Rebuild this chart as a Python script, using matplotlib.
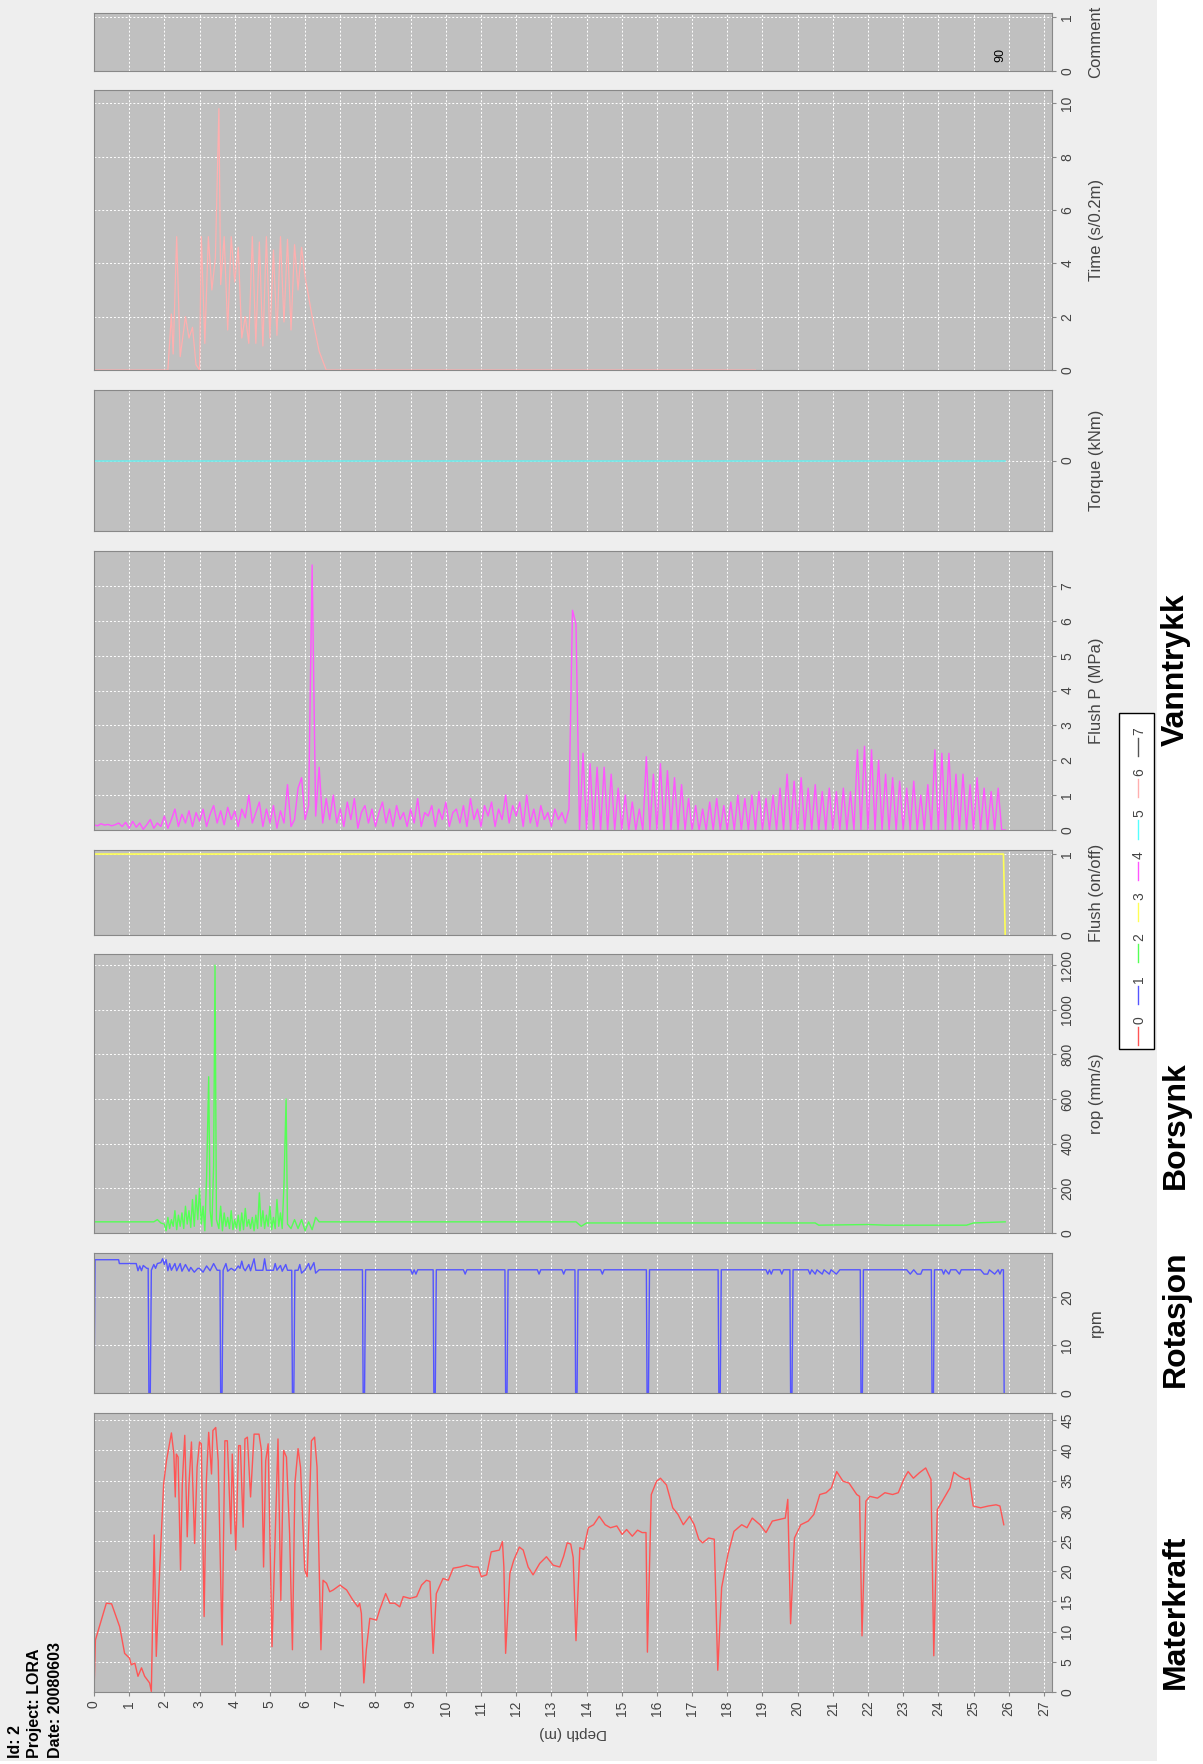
import numpy as np
import matplotlib.pyplot as plt
from matplotlib.lines import Line2D
from matplotlib.patches import Rectangle

plt.rcParams['font.family'] = ['Liberation Sans', 'DejaVu Sans']

# ---- data (depth in m, value) ----
force_pts = [
    (0.0, 0.0), (0.04, 8.6), (0.35, 14.7), (0.5, 14.6), (0.73, 10.8), (0.87, 6.4),
    (1.01, 5.6), (1.06, 4.5), (1.16, 4.8), (1.25, 2.6), (1.35, 4.0), (1.44, 2.6),
    (1.58, 1.5), (1.63, 0.1), (1.71, 26.0), (1.77, 5.9), (1.87, 20.7), (1.98, 34.5),
    (2.06, 38.3), (2.2, 42.9), (2.27, 39.4), (2.31, 32.3), (2.34, 39.4), (2.39, 38.9),
    (2.46, 20.2), (2.51, 34.5), (2.58, 42.5), (2.65, 25.7), (2.7, 34.5), (2.77, 41.4),
    (2.86, 24.6), (2.93, 37.2), (3.0, 41.4), (3.05, 41.1), (3.13, 12.5), (3.19, 34.5),
    (3.26, 43.0), (3.34, 36.1), (3.38, 43.3), (3.46, 43.8), (3.53, 38.3), (3.64, 7.8),
    (3.72, 41.6), (3.79, 41.6), (3.89, 26.2), (3.93, 39.4), (4.03, 23.5), (4.11, 40.8),
    (4.16, 40.8), (4.24, 27.3), (4.29, 41.9), (4.36, 42.2), (4.45, 32.3), (4.55, 42.7),
    (4.69, 42.7), (4.76, 40.0), (4.82, 20.7), (4.88, 38.3), (4.95, 41.1), (5.06, 7.5),
    (5.17, 30.1), (5.23, 41.9), (5.31, 15.2), (5.39, 40.0), (5.47, 38.9), (5.56, 26.2),
    (5.64, 7.0), (5.71, 34.5), (5.8, 40.3), (5.87, 37.2), (5.99, 20.2), (6.06, 19.1),
    (6.18, 41.6), (6.27, 42.2), (6.34, 37.2), (6.45, 7.0), (6.51, 18.5), (6.61, 18.0),
    (6.7, 16.6), (6.8, 16.9), (6.99, 17.7), (7.18, 16.9), (7.36, 15.2), (7.5, 14.1),
    (7.55, 14.7), (7.6, 13.0), (7.67, 1.5), (7.74, 7.0), (7.84, 12.2), (8.03, 11.9),
    (8.12, 13.6), (8.29, 16.3), (8.41, 14.7), (8.55, 14.7), (8.69, 14.1), (8.79, 15.8),
    (8.98, 15.5), (9.17, 15.8), (9.31, 17.7), (9.45, 18.5), (9.55, 18.3), (9.64, 6.4),
    (9.73, 16.3), (9.92, 18.8), (10.07, 18.5), (10.21, 20.5), (10.4, 20.7), (10.59, 21.0),
    (10.78, 20.7), (10.92, 20.7), (11.01, 19.1), (11.16, 19.4), (11.29, 23.2), (11.52, 23.5),
    (11.61, 24.9), (11.65, 20.7), (11.7, 6.4), (11.82, 19.6), (11.93, 21.8), (12.09, 24.0),
    (12.2, 23.5), (12.34, 20.7), (12.48, 19.4), (12.67, 21.3), (12.86, 22.4), (13.05, 21.0),
    (13.24, 20.7), (13.35, 22.5), (13.45, 24.7), (13.55, 24.5), (13.62, 22.3), (13.7, 8.5),
    (13.81, 23.9), (13.92, 23.6), (14.05, 27.2), (14.2, 27.7), (14.36, 29.1), (14.53, 27.7),
    (14.68, 27.2), (14.86, 27.5), (15.01, 26.1), (15.14, 26.9), (15.3, 25.8), (15.45, 26.8),
    (15.58, 26.4), (15.69, 26.4), (15.73, 6.6), (15.84, 32.7), (15.99, 34.9), (16.1, 35.4),
    (16.27, 34.3), (16.45, 30.5), (16.6, 29.4), (16.75, 27.7), (16.93, 29.1), (17.06, 27.7),
    (17.19, 25.3), (17.3, 24.7), (17.47, 25.5), (17.63, 25.3), (17.73, 3.6), (17.84, 17.3),
    (18.02, 22.8), (18.19, 26.6), (18.41, 27.7), (18.56, 27.2), (18.71, 28.8), (18.93, 27.7),
    (19.1, 26.4), (19.28, 28.3), (19.5, 28.6), (19.65, 28.8), (19.72, 31.9), (19.8, 11.3),
    (19.91, 25.5), (20.09, 27.7), (20.3, 28.3), (20.46, 29.4), (20.63, 32.7), (20.81, 33.0),
    (20.96, 33.8), (21.11, 36.5), (21.29, 34.9), (21.46, 34.6), (21.68, 32.7), (21.76, 32.4),
    (21.83, 9.3), (21.94, 31.6), (22.05, 32.4), (22.27, 32.1), (22.48, 33.0), (22.7, 32.7),
    (22.86, 33.0), (23.03, 35.4), (23.14, 36.5), (23.29, 35.4), (23.46, 36.3), (23.64, 37.1),
    (23.79, 35.2), (23.87, 6.0), (23.97, 30.2), (24.16, 32.1), (24.33, 33.8), (24.44, 36.4),
    (24.6, 35.7), (24.77, 35.2), (24.88, 35.4), (24.99, 30.8), (25.2, 30.5), (25.42, 30.8),
    (25.64, 31.0), (25.75, 30.8), (25.86, 27.7),
]

rpm_pts = [
    (0.0, 0), (0.03, 27.8), (0.7, 27.8), (0.72, 27.0), (1.2, 27.0), (1.25, 25.5), (1.3, 26.5),
    (1.35, 25.5), (1.4, 26.6), (1.5, 26.0), (1.54, 26.0), (1.56, 0), (1.6, 0), (1.63, 25.6),
    (1.7, 26.8), (1.75, 26.0), (1.8, 27.0), (1.9, 27.2), (1.95, 28.0), (2.0, 26.8), (2.05, 27.8),
    (2.1, 25.5), (2.15, 27.0), (2.2, 25.6), (2.3, 27.0), (2.35, 25.5), (2.45, 27.0), (2.5, 25.4),
    (2.6, 26.8), (2.7, 25.4), (2.75, 26.2), (2.85, 25.2), (2.95, 26.0), (3.0, 26.0), (3.1, 25.2),
    (3.2, 26.5), (3.3, 25.5), (3.4, 27.0), (3.5, 25.6), (3.58, 25.6), (3.6, 0), (3.64, 0),
    (3.67, 25.6), (3.75, 27.0), (3.8, 25.4), (3.9, 26.0), (4.0, 25.5), (4.1, 26.5), (4.15, 26.0),
    (4.2, 27.5), (4.25, 26.0), (4.3, 25.5), (4.4, 26.8), (4.45, 25.5), (4.55, 28.0), (4.6, 25.6),
    (4.8, 25.6), (4.85, 28.0), (4.9, 25.6), (5.1, 25.6), (5.15, 27.0), (5.2, 25.6), (5.3, 26.6),
    (5.35, 25.4), (5.45, 26.8), (5.5, 25.6), (5.62, 25.6), (5.64, 0), (5.68, 0), (5.71, 25.6),
    (5.8, 25.6), (5.85, 26.8), (5.9, 25.0), (6.0, 25.7), (6.1, 27.0), (6.15, 25.7), (6.25, 27.2),
    (6.3, 25.0), (6.4, 25.7), (7.63, 25.7), (7.65, 0), (7.69, 0), (7.72, 25.7), (9.0, 25.7),
    (9.05, 24.8), (9.1, 25.7), (9.15, 24.8), (9.2, 25.7), (9.64, 25.7), (9.66, 0), (9.7, 0),
    (9.73, 25.7), (10.5, 25.7), (10.55, 24.8), (10.6, 25.7), (11.68, 25.7), (11.7, 0),
    (11.74, 0), (11.77, 25.7), (12.6, 25.7), (12.65, 24.8), (12.7, 25.7), (13.3, 25.7),
    (13.35, 24.8), (13.4, 25.7), (13.67, 25.7), (13.69, 0), (13.73, 0), (13.76, 25.7),
    (14.4, 25.7), (14.45, 24.8), (14.5, 25.7), (15.7, 25.7), (15.72, 0), (15.76, 0),
    (15.79, 25.7), (17.74, 25.7), (17.76, 0), (17.8, 0), (17.83, 25.7), (19.1, 25.7),
    (19.15, 24.8), (19.2, 25.7), (19.25, 24.8), (19.3, 25.7), (19.5, 25.7), (19.55, 24.8),
    (19.6, 25.7), (19.78, 25.7), (19.8, 0), (19.84, 0), (19.87, 25.7), (20.3, 25.7),
    (20.35, 24.8), (20.4, 25.7), (20.5, 24.8), (20.55, 25.7), (20.7, 24.8), (20.75, 25.7),
    (20.9, 24.8), (20.95, 25.7), (21.1, 24.8), (21.2, 25.7), (21.78, 25.7), (21.8, 0),
    (21.84, 0), (21.87, 25.7), (23.1, 25.7), (23.2, 24.8), (23.3, 25.7), (23.4, 24.8),
    (23.5, 24.8), (23.55, 25.7), (23.8, 25.7), (23.82, 0), (23.86, 0), (23.89, 25.7),
    (24.1, 25.7), (24.15, 24.8), (24.2, 25.7), (24.3, 24.8), (24.35, 25.7), (24.5, 25.7),
    (24.6, 24.8), (24.65, 25.7), (25.2, 25.7), (25.3, 24.8), (25.4, 24.8), (25.45, 25.7),
    (25.6, 24.8), (25.7, 25.7), (25.75, 24.8), (25.8, 25.7), (25.85, 25.7), (25.87, 0),
]

rop_pts = [
    (0.0, 50), (1.7, 50), (1.8, 60), (1.9, 45), (2.0, 40), (2.05, 10), (2.1, 70), (2.15, 20),
    (2.2, 60), (2.25, 30), (2.3, 100), (2.35, 15), (2.4, 80), (2.45, 30), (2.5, 90), (2.55, 20),
    (2.6, 120), (2.65, 40), (2.7, 100), (2.75, 25), (2.8, 150), (2.85, 30), (2.9, 170),
    (2.95, 60), (3.0, 200), (3.05, 40), (3.1, 120), (3.15, 10), (3.2, 250), (3.26, 700),
    (3.3, 100), (3.35, 30), (3.4, 300), (3.44, 1200), (3.48, 60), (3.55, 20), (3.6, 120),
    (3.65, 10), (3.7, 90), (3.75, 30), (3.8, 70), (3.85, 20), (3.9, 100), (3.95, 15), (4.0, 60),
    (4.05, 20), (4.1, 80), (4.15, 10), (4.2, 90), (4.25, 15), (4.3, 110), (4.35, 30), (4.4, 60),
    (4.45, 20), (4.5, 70), (4.55, 10), (4.6, 80), (4.65, 20), (4.7, 180), (4.75, 30), (4.8, 100),
    (4.85, 20), (4.9, 80), (4.95, 30), (5.0, 120), (5.05, 15), (5.1, 70), (5.15, 20), (5.2, 150),
    (5.25, 30), (5.3, 90), (5.35, 20), (5.4, 220), (5.46, 600), (5.5, 40), (5.6, 20), (5.7, 60),
    (5.8, 20), (5.9, 60), (6.0, 10), (6.1, 50), (6.2, 15), (6.3, 70), (6.4, 50), (13.7, 50),
    (13.85, 30), (14.0, 45), (20.5, 45), (20.6, 35), (22.0, 38), (22.5, 35), (24.8, 35),
    (25.0, 45), (25.9, 50),
]

flush_pts = [(0.0, 1.0), (25.85, 1.0), (25.9, 0.0)]

# flush pressure, one value per 0.1 m from 0.0 to 25.9
flushp_vals = [
    0.15, 0.12, 0.18, 0.14, 0.16, 0.12, 0.15, 0.20, 0.10, 0.22,
    0.05, 0.25, 0.08, 0.20, 0.02, 0.15, 0.30, 0.05, 0.20, 0.10,
    0.40, 0.05, 0.30, 0.60, 0.10, 0.45, 0.20, 0.55, 0.10, 0.50,
    0.25, 0.60, 0.10, 0.45, 0.70, 0.20, 0.55, 0.15, 0.65, 0.30,
    0.55, 0.10, 0.60, 0.35, 1.00, 0.20, 0.50, 0.80, 0.10, 0.60,
    0.20, 0.70, 0.05, 0.55, 0.20, 1.30, 0.10, 0.30, 1.20, 1.50,
    0.30, 0.70, 7.60, 0.40, 1.80, 0.20, 0.90, 0.30, 1.00, 0.20,
    0.60, 0.10, 0.80, 0.30, 0.90, 0.05, 0.50, 0.70, 0.20, 0.60,
    0.10, 0.50, 0.80, 0.20, 0.60, 0.10, 0.70, 0.30, 0.50, 0.10,
    0.60, 0.20, 0.90, 0.10, 0.50, 0.40, 0.70, 0.10, 0.60, 0.30,
    0.80, 0.10, 0.50, 0.60, 0.20, 0.70, 0.10, 0.90, 0.30, 0.60,
    0.10, 0.70, 0.40, 0.80, 0.10, 0.60, 0.30, 1.00, 0.20, 0.70,
    0.40, 0.80, 0.10, 1.00, 0.20, 0.60, 0.10, 0.70, 0.30, 0.50,
    0.10, 0.60, 0.30, 0.50, 0.20, 0.60, 6.30, 5.90, 0.00, 2.20,
    0.00, 1.90, 0.00, 1.80, 0.00, 1.80, 0.00, 1.60, 0.00, 1.20,
    0.00, 1.00, 0.00, 0.80, 0.00, 0.60, 0.00, 2.10, 0.00, 1.60,
    0.00, 1.90, 0.00, 1.70, 0.00, 1.50, 0.00, 1.30, 0.00, 0.90,
    0.00, 0.70, 0.00, 0.60, 0.00, 0.80, 0.00, 0.90, 0.00, 0.70,
    0.00, 0.80, 0.00, 1.00, 0.00, 0.90, 0.00, 1.00, 0.00, 1.10,
    0.00, 0.90, 0.00, 1.00, 0.00, 1.20, 0.00, 1.60, 0.00, 1.40,
    0.00, 1.50, 0.00, 1.20, 0.00, 1.30, 0.00, 1.10, 0.00, 1.20,
    0.00, 1.10, 0.00, 1.20, 0.00, 1.10, 0.00, 2.30, 0.00, 2.40,
    0.00, 2.30, 0.00, 2.00, 0.00, 1.60, 0.00, 1.50, 0.00, 1.40,
    0.00, 1.20, 0.00, 1.40, 0.00, 1.00, 0.00, 1.30, 0.00, 2.30,
    0.00, 2.20, 0.00, 2.20, 0.00, 1.60, 0.00, 1.60, 0.00, 1.30,
    0.00, 1.50, 0.00, 1.20, 0.00, 1.10, 0.00, 1.20, 0.00, 0.00,
]
flushp_depth = np.round(np.arange(len(flushp_vals)) * 0.1, 1)

torque_pts = [(0.0, 0.0), (25.9, 0.0)]

time_pts = [
    (0.0, 0), (2.1, 0), (2.2, 2.1), (2.25, 0.6), (2.35, 5.0), (2.45, 0.5), (2.6, 2.0),
    (2.7, 1.2), (2.8, 1.6), (2.9, 0.2), (3.0, 0.0), (3.05, 5.0), (3.15, 1.0), (3.25, 5.0),
    (3.35, 3.0), (3.45, 4.2), (3.55, 9.8), (3.6, 3.2), (3.7, 5.0), (3.8, 1.5), (3.9, 5.0),
    (4.0, 3.3), (4.1, 4.6), (4.2, 1.2), (4.3, 2.0), (4.4, 1.0), (4.5, 5.0), (4.6, 1.0),
    (4.7, 4.8), (4.8, 0.9), (4.9, 5.0), (5.0, 1.2), (5.1, 4.5), (5.2, 1.3), (5.3, 5.0),
    (5.4, 1.8), (5.5, 4.9), (5.6, 1.5), (5.7, 4.7), (5.8, 3.0), (5.9, 4.6), (6.0, 3.5),
    (6.2, 2.0), (6.4, 0.7), (6.6, 0.0), (18.8, 0.0),
]

comment_depth = 25.75
comment_text = "90"

legend_labels = ["0", "1", "2", "3", "4", "5", "6", "7"]
legend_colors = ["#FF5555", "#5555FF", "#55FF55", "#FFFF55",
                 "#FF55FF", "#55FFFF", "#FFAFAF", "#555555"]

info_lines = ["Id: 2", "Project: LORA", "Date: 20080603"]

# ---- figure ----
W, H = 1203, 1764


def fx(x):
    return x / W


def fy(y):
    return 1 - y / H


fig = plt.figure(figsize=(W / 100, H / 100), dpi=100, facecolor="white")
fig.add_artist(Rectangle((0, fy(1761)), fx(1157), 1761 / H, transform=fig.transFigure,
                         facecolor="#EEEEEE", edgecolor="none", zorder=-10))

TXT = "#444444"


def make_ax(top, bottom, ylim, yticks, label=None):
    ax = fig.add_axes([fx(94), fy(bottom), fx(1052) - fx(94), (bottom - top) / H])
    ax.set_facecolor("#C0C0C0")
    ax.set_xlim(0, 27.23)
    ax.set_xticks(range(28))
    ax.set_ylim(*ylim)
    ax.set_yticks(yticks)
    ax.grid(True, color="white", linestyle=(0, (2, 2)), linewidth=0.7)
    ax.set_axisbelow(True)
    for s in ax.spines.values():
        s.set_color("#888888")
        s.set_linewidth(0.8)
    ax.tick_params(axis="y", left=False, right=True, labelleft=False, labelright=True,
                   length=3, color="#888888", labelsize=10, labelcolor=TXT, pad=3,
                   labelrotation=90)
    for lbl in ax.get_yticklabels():
        lbl.set_va("center")
        lbl.set_ha("left")
    ax.tick_params(axis="x", bottom=False, labelbottom=False)
    if label:
        fig.text(fx(1096), fy((top + bottom) / 2), label, rotation=90, ha="center",
                 va="center", fontsize=12, color=TXT)
    return ax


def plot_pts(ax, pts, color, lw=1.0):
    d, v = zip(*pts)
    ax.plot(d, v, color=color, lw=lw)


ax_c = make_ax(13.5, 71, (0, 1.065), [0, 1], "Comment")
ax_c.text(comment_depth, 0.3, comment_text, rotation=90, ha="center", va="center",
          fontsize=9, color="black")

ax_t = make_ax(90, 370, (0, 10.5), range(0, 11, 2), "Time (s/0.2m)")
plot_pts(ax_t, time_pts, "#FFAFAF", 0.9)

ax_q = make_ax(390, 531, (-1, 1), [0], "Torque (kNm)")
plot_pts(ax_q, torque_pts, "#70E8E8", 1.2)

ax_p = make_ax(551, 830, (0, 8.0), range(0, 8), "Flush P (MPa)")
ax_p.plot(flushp_depth, flushp_vals, color="#FF55FF", lw=1.0)

ax_f = make_ax(850, 935, (0, 1.05), [0, 1], "Flush (on/off)")
plot_pts(ax_f, flush_pts, "#FFFF55", 1.2)

ax_r = make_ax(954, 1233, (0, 1250), range(0, 1201, 200), "rop (mm/s)")
plot_pts(ax_r, rop_pts, "#55FF55", 1.0)

ax_w = make_ax(1253, 1393, (0, 29.2), [0, 10, 20], "rpm")
plot_pts(ax_w, rpm_pts, "#5555FF", 1.0)

ax_m = make_ax(1413, 1692, (0, 46.2), range(0, 46, 5))
plot_pts(ax_m, force_pts, "#FF5555", 1.0)
ax_m.tick_params(axis="x", bottom=True, labelbottom=True, length=3, color="#888888",
                 labelsize=10, labelcolor=TXT, labelrotation=90, pad=3)
fig.text(fx(573), fy(1733), "Depth (m)", rotation=180, ha="center", va="center",
         fontsize=11, color=TXT)

# legend (drawn rotated, reading bottom to top)
fig.add_artist(Rectangle((fx(1119), fy(1049)), fx(1154) - fx(1119), (1049 - 713) / H,
                         transform=fig.transFigure, facecolor="white",
                         edgecolor="black", linewidth=1.0, zorder=5))
for i, (lab, col) in enumerate(zip(legend_labels, legend_colors)):
    y0 = 1045 - 41.3 * i
    fig.add_artist(Line2D([fx(1138), fx(1138)], [fy(y0), fy(y0 - 18)],
                          transform=fig.transFigure, color=col, lw=1.0, zorder=6))
    fig.text(fx(1139), fy(y0 - 25), lab, rotation=90, ha="center", va="center",
             fontsize=10, color=TXT, zorder=6)

# panel titles
for name, yc in [("Materkraft", 1612), ("Rotasjon", 1319), ("Borsynk", 1125),
                 ("Vanntrykk", 670)]:
    fig.text(fx(1176), fy(yc), name, rotation=90, ha="center", va="center",
             fontsize=23, fontweight="bold", color="black")

for txt, x in zip(info_lines, [15, 35, 55]):
    fig.text(fx(x), fy(1758), txt, rotation=90, ha="center", va="bottom",
             fontsize=11.5, fontweight="bold", color="black")

fig.savefig("out.png", dpi=100)
